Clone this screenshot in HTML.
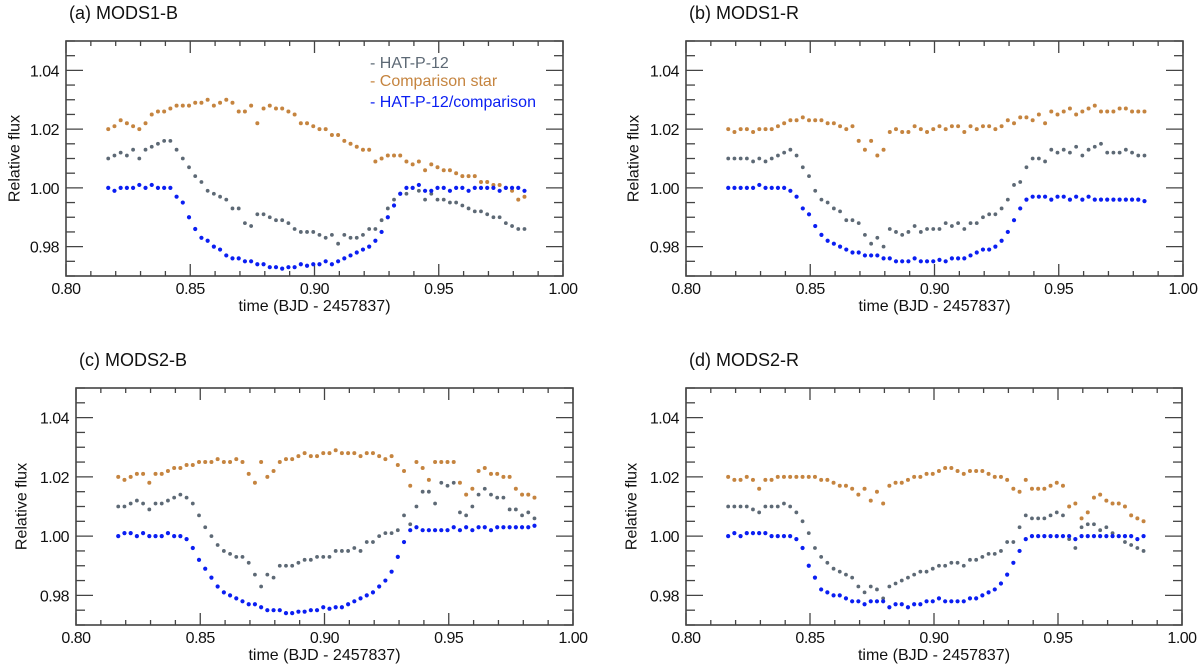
<!DOCTYPE html>
<html><head><meta charset="utf-8"><style>
html,body{margin:0;padding:0;background:#fff;}
svg{display:block;font-family:"Liberation Sans",sans-serif;}
</style></head><body>
<svg id="fig" width="1200" height="670" viewBox="0 0 1200 670"></svg>
<script>
const times=[0.817,0.8195,0.822,0.8245,0.827,0.8295,0.832,0.8345,0.837,0.8395,0.842,0.8445,0.847,0.8495,0.852,0.8545,0.857,0.8595,0.862,0.8645,0.867,0.8695,0.872,0.8745,0.877,0.8795,0.882,0.8845,0.887,0.8895,0.892,0.8945,0.897,0.8995,0.902,0.9045,0.907,0.9095,0.912,0.9145,0.917,0.9195,0.922,0.9245,0.927,0.9295,0.932,0.9345,0.937,0.9395,0.942,0.9445,0.947,0.9495,0.952,0.9545,0.957,0.9595,0.962,0.9645,0.967,0.9695,0.972,0.9745,0.977,0.9795,0.982,0.9845];
const xTicks=[0.80,0.85,0.90,0.95,1.00];
const xTickLabels=["0.80","0.85","0.90","0.95","1.00"];
const yTicks=[0.98,1.00,1.02,1.04];
const yTickLabels=["0.98","1.00","1.02","1.04"];
const panelTitles=["(a) MODS1-B","(b) MODS1-R","(c) MODS2-B","(d) MODS2-R"];
const legendLabels=["- HAT-P-12","- Comparison star","- HAT-P-12/comparison"];

const aComp=[1.020,1.021,1.023,1.022,1.021,1.020,1.022,1.025,1.026,1.026,1.027,1.028,1.028,1.028,1.029,1.029,1.030,1.028,1.029,1.030,1.029,1.026,1.026,1.028,1.022,1.027,1.028,1.027,1.027,1.026,1.025,1.022,1.022,1.021,1.020,1.020,1.018,1.018,1.016,1.015,1.014,1.013,1.013,1.009,1.010,1.011,1.011,1.011,1.009,1.008,1.009,1.006,1.008,1.007,1.006,1.006,1.005,1.004,1.004,1.004,1.002,1.002,1.001,1.001,1.000,0.999,0.996,0.997];
const aTarget=[1.010,1.011,1.012,1.011,1.013,1.010,1.013,1.014,1.015,1.016,1.016,1.013,1.010,1.007,1.004,1.002,0.999,0.998,0.997,0.996,0.993,0.993,0.988,0.987,0.991,0.991,0.990,0.989,0.989,0.988,0.986,0.985,0.985,0.985,0.984,0.983,0.984,0.981,0.984,0.983,0.983,0.984,0.986,0.986,0.989,0.993,0.996,0.998,0.998,1.000,0.999,0.996,0.998,0.996,0.996,0.995,0.995,0.994,0.993,0.992,0.992,0.991,0.990,0.990,0.988,0.987,0.986,0.986];
const aRatio=[1.000,0.999,1.000,1.000,1.000,1.001,1.000,1.001,1.000,1.000,1.000,0.997,0.995,0.990,0.986,0.983,0.982,0.980,0.979,0.977,0.976,0.976,0.975,0.975,0.974,0.974,0.973,0.973,0.9725,0.973,0.973,0.974,0.9735,0.974,0.974,0.975,0.974,0.975,0.976,0.977,0.978,0.979,0.980,0.982,0.985,0.990,0.994,0.998,1.000,1.000,1.001,0.999,0.999,1.000,1.000,0.999,1.000,1.000,0.999,1.000,1.000,1.000,1.000,0.999,1.000,1.000,1.000,0.999];

const bComp=[1.020,1.019,1.020,1.020,1.019,1.020,1.020,1.020,1.021,1.022,1.023,1.023,1.024,1.023,1.023,1.023,1.022,1.022,1.021,1.020,1.021,1.016,1.013,1.016,1.011,1.013,1.019,1.020,1.019,1.019,1.021,1.020,1.019,1.020,1.021,1.020,1.021,1.021,1.019,1.021,1.020,1.021,1.021,1.020,1.021,1.023,1.022,1.024,1.024,1.023,1.025,1.022,1.026,1.025,1.026,1.027,1.025,1.026,1.027,1.028,1.026,1.026,1.026,1.027,1.027,1.026,1.026,1.026];
const bTarget=[1.010,1.010,1.010,1.010,1.009,1.010,1.009,1.010,1.011,1.012,1.013,1.011,1.007,1.004,0.999,0.996,0.995,0.993,0.992,0.989,0.989,0.988,0.984,0.981,0.983,0.980,0.986,0.985,0.984,0.985,0.987,0.985,0.986,0.986,0.986,0.988,0.987,0.988,0.986,0.988,0.988,0.990,0.991,0.991,0.993,0.996,1.001,1.002,1.007,1.010,1.010,1.009,1.013,1.012,1.013,1.012,1.014,1.011,1.013,1.014,1.015,1.012,1.012,1.012,1.013,1.012,1.011,1.011];
const bRatio=[1.000,1.000,1.000,1.000,1.000,1.001,1.000,1.000,1.000,1.000,0.999,0.997,0.993,0.991,0.987,0.984,0.982,0.981,0.980,0.979,0.978,0.978,0.977,0.977,0.977,0.976,0.976,0.975,0.975,0.975,0.976,0.975,0.975,0.975,0.9755,0.975,0.976,0.976,0.976,0.977,0.978,0.979,0.979,0.980,0.982,0.985,0.989,0.993,0.996,0.997,0.997,0.997,0.996,0.997,0.997,0.996,0.997,0.996,0.997,0.996,0.996,0.996,0.996,0.996,0.996,0.996,0.996,0.9955];

const cComp=[1.020,1.019,1.020,1.021,1.021,1.018,1.021,1.021,1.022,1.023,1.023,1.024,1.024,1.025,1.025,1.025,1.026,1.025,1.025,1.026,1.025,1.021,1.018,1.025,1.020,1.022,1.025,1.026,1.026,1.027,1.028,1.027,1.027,1.028,1.028,1.029,1.028,1.028,1.028,1.027,1.028,1.028,1.027,1.026,1.027,1.024,1.022,1.017,1.025,1.023,1.019,1.025,1.025,1.025,1.025,1.018,1.014,1.016,1.022,1.023,1.021,1.021,1.020,1.020,1.016,1.014,1.014,1.013];
const cTarget=[1.010,1.010,1.011,1.012,1.011,1.009,1.011,1.011,1.012,1.013,1.014,1.013,1.011,1.007,1.003,1.000,0.997,0.995,0.994,0.993,0.993,0.991,0.987,0.983,0.987,0.986,0.990,0.990,0.990,0.991,0.992,0.992,0.993,0.993,0.993,0.995,0.995,0.995,0.996,0.995,0.998,0.998,1.000,1.001,1.001,1.002,1.007,1.004,1.010,1.015,1.015,1.011,1.018,1.017,1.018,1.008,1.007,1.010,1.014,1.016,1.014,1.013,1.013,1.009,1.009,1.007,1.008,1.006];
const cRatio=[1.000,1.001,1.001,1.000,1.001,1.000,1.000,1.000,1.001,1.000,1.000,0.999,0.996,0.992,0.989,0.986,0.983,0.981,0.980,0.979,0.978,0.977,0.977,0.976,0.975,0.975,0.975,0.974,0.974,0.9745,0.9745,0.975,0.975,0.976,0.9755,0.976,0.976,0.977,0.978,0.979,0.980,0.981,0.983,0.985,0.988,0.993,0.998,1.002,1.003,1.002,1.002,1.002,1.002,1.002,1.003,1.002,1.003,1.002,1.003,1.003,1.002,1.003,1.003,1.003,1.003,1.003,1.003,1.0035];

const dComp=[1.020,1.019,1.019,1.020,1.019,1.016,1.019,1.019,1.020,1.020,1.020,1.020,1.020,1.020,1.020,1.019,1.019,1.018,1.017,1.017,1.016,1.014,1.016,1.012,1.015,1.011,1.017,1.018,1.018,1.019,1.020,1.020,1.021,1.021,1.022,1.023,1.023,1.022,1.021,1.022,1.022,1.022,1.021,1.020,1.020,1.019,1.016,1.015,1.019,1.016,1.016,1.016,1.017,1.018,1.017,1.010,1.011,1.006,1.008,1.013,1.014,1.012,1.011,1.011,1.010,1.007,1.006,1.005];
const dTarget=[1.010,1.010,1.010,1.010,1.009,1.008,1.010,1.010,1.010,1.011,1.010,1.008,1.005,1.001,0.996,0.993,0.991,0.989,0.988,0.987,0.986,0.983,0.981,0.983,0.982,0.979,0.983,0.984,0.985,0.986,0.987,0.988,0.988,0.989,0.990,0.990,0.991,0.991,0.990,0.992,0.992,0.993,0.994,0.994,0.995,0.998,0.998,1.003,1.007,1.006,1.006,1.006,1.007,1.008,1.007,0.999,0.996,1.003,1.004,1.004,1.002,1.003,1.001,1.000,0.998,0.997,0.996,0.995];
const dRatio=[1.000,1.001,1.000,1.001,1.001,1.001,1.001,1.000,1.000,1.000,1.000,0.999,0.996,0.990,0.986,0.982,0.981,0.980,0.980,0.979,0.978,0.978,0.977,0.978,0.978,0.978,0.976,0.977,0.977,0.976,0.977,0.977,0.978,0.978,0.979,0.978,0.978,0.978,0.978,0.979,0.979,0.980,0.981,0.982,0.984,0.987,0.991,0.995,0.999,1.000,1.000,1.000,1.000,1.000,1.000,1.000,0.999,1.000,1.000,1.000,1.000,1.000,1.000,1.000,1.000,1.000,0.999,1.000];

const NS="http://www.w3.org/2000/svg";
const svg=document.getElementById('fig');
const COL={target:"#5d6975",comp:"#c5843f",ratio:"#0a1ef2"};
const XMIN=0.80,XMAX=1.00,YMIN=0.97,YMAX=1.05;
const panels=[
 {key:"a",box:[66,41,563,276],series:[aComp,aTarget,aRatio],legend:true,ylx:15},
 {key:"b",box:[686,41,1183,276],series:[bComp,bTarget,bRatio],legend:false,ylx:634},
 {key:"c",box:[76,388,573,625],series:[cComp,cTarget,cRatio],legend:false,ylx:22},
 {key:"d",box:[686,388,1182,625],series:[dComp,dTarget,dRatio],legend:false,ylx:632}
];
function mk(tag,attrs,parent){const e=document.createElementNS(NS,tag);for(const k in attrs)e.setAttribute(k,attrs[k]);parent.appendChild(e);return e;}

panels.forEach((p,pi)=>{
 const [x0,y0,x1,y1]=p.box;
 const sx=v=>x0+(v-XMIN)/(XMAX-XMIN)*(x1-x0);
 const sy=v=>y1-(v-YMIN)/(YMAX-YMIN)*(y1-y0);
 const g=mk('g',{},svg);
 
 
 const t=mk('text',{x:x0+3,y:y0-22,'font-size':18,fill:'#111'},g);
 t.textContent=panelTitles[pi];
 
 
 const tk=mk('g',{stroke:'#444','stroke-width':1.3},g);
 
 
 for(let i=0;i<=20;i++){
  const v=XMIN+i*0.01, X=sx(v), L=(i%5===0)?12:5;
  mk('line',{x1:X,y1:y1,x2:X,y2:y1-L},tk);
  mk('line',{x1:X,y1:y0,x2:X,y2:y0+L},tk);
 }
 for(let i=0;i<=16;i++){
  const v=YMIN+i*0.005, Y=sy(v), L=(i%4===2)?17:9;
  mk('line',{x1:x0,y1:Y,x2:x0+L,y2:Y},tk);
  mk('line',{x1:x1,y1:Y,x2:x1-L,y2:Y},tk);
 }
 const box=mk('rect',{x:x0,y:y0,width:x1-x0,height:y1-y0,fill:'none',stroke:'#444','stroke-width':1.6},g);
 
 
 xTicks.forEach((v,i)=>{
  const l=mk('text',{x:sx(v),y:y1+18,'font-size':16,'text-anchor':'middle',fill:'#111','letter-spacing':'-0.5'},g);
  l.textContent=xTickLabels[i];
  
  
 });
 yTicks.forEach((v,i)=>{
  const l=mk('text',{x:x0-7,y:sy(v)+6,'font-size':16,'text-anchor':'end',fill:'#111','letter-spacing':'-0.5'},g);
  l.textContent=yTickLabels[i];
  
  
 });
 const xl=mk('text',{x:(x0+x1)/2,y:y1+35,'font-size':16,'text-anchor':'middle',fill:'#111'},g);
 xl.textContent="time (BJD - 2457837)";
 
 
 const yc=(y0+y1)/2;
 const yl=mk('text',{x:p.ylx,y:yc,'font-size':16,'text-anchor':'middle',fill:'#111',transform:`rotate(-90 ${p.ylx} ${yc})`,'dominant-baseline':'central'},g);
 yl.textContent="Relative flux";
 
 
 const names=['comparison-star-series','hat-p-12-series','ratio-series'];
 const cols=[COL.comp,COL.target,COL.ratio];
 const radii=[2.0,1.9,2.1];
 p.series.forEach((arr,si)=>{
  const sg=mk('g',{fill:cols[si]},g);
  
  
  arr.forEach((v,i)=>{
   const c=mk('circle',{cx:sx(times[i]).toFixed(2),cy:sy(v).toFixed(2),r:radii[si]},sg);
   
   
  });
 });
 if(p.legend){
  const lg=mk('g',{'font-size':16},g);
  
  
  const lc=[COL.target,COL.comp,COL.ratio];
  const ly=[68,86,107];
  legendLabels.forEach((s,i)=>{
   const e=mk('text',{x:370,y:ly[i],fill:lc[i]},lg);
   e.textContent=s;
   
   
  });
 }
});
</script>
</body></html>
